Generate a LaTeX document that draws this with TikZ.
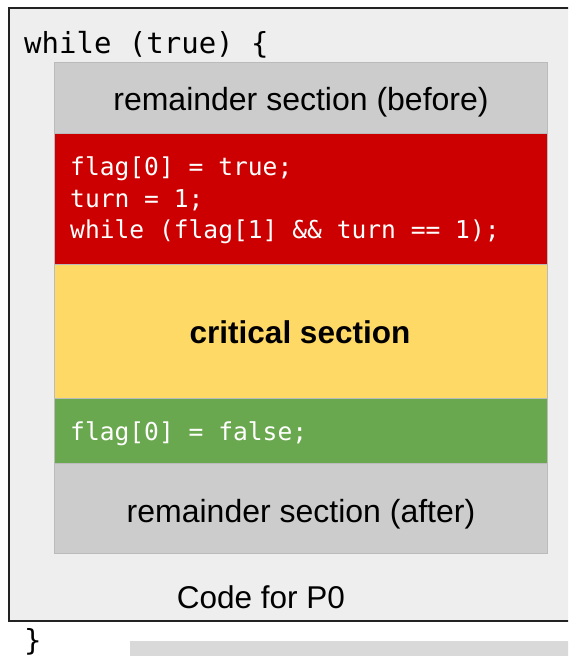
\documentclass[tikz,border=0pt]{standalone}
\usepackage{fontspec}
\setmainfont{Liberation Sans}
\newfontfamily\codefont{DejaVu Sans Mono}
\definecolor{panelbg}{HTML}{EEEEEE}
\definecolor{panelline}{HTML}{222222}
\definecolor{remgray}{HTML}{CCCCCC}
\definecolor{blockline}{HTML}{BBBBBB}
\definecolor{entryred}{HTML}{CC0000}
\definecolor{crityellow}{HTML}{FFD966}
\definecolor{exitgreen}{HTML}{6AA84F}
\definecolor{barfill}{HTML}{D9D9D9}
\tikzset{
  panel/.style={draw=panelline, line width=1.5pt, fill=panelbg, anchor=north west,
    inner sep=0pt, minimum width=572pt, minimum height=613pt},
  block/.style={draw=blockline, line width=1pt, anchor=north west, inner sep=0pt,
    minimum width=493pt},
  sanslabel/.style={font=\fontsize{32}{38}\selectfont, text=black, inner sep=0pt,
    anchor=base},
  codeline/.style={font=\codefont\fontsize{24.6}{32}\selectfont, text=white,
    anchor=base west, inner sep=0pt},
  bigcode/.style={font=\codefont\fontsize{29}{35}\selectfont, text=black,
    anchor=base west, inner sep=0pt}
}
\begin{document}
\begin{tikzpicture}[x=1pt,y=-1pt]
\useasboundingbox (0,0) rectangle (568,656);
\clip (0,0) rectangle (568,656);
\fill[white] (0,0) rectangle (568,656);

% outer panel holding the loop
\node[panel] (panel) at (8,7) {};
\node[bigcode] (loophead) at (24,53) {while (true) \{};

% the stacked sections of the loop body
\node[block, fill=remgray, minimum height=71pt] (before) at (54,62) {};
\node[block, fill=entryred, minimum height=131pt] (entry) at (54,133) {};
\node[block, fill=crityellow, minimum height=134pt] (crit) at (54,264) {};
\node[block, fill=exitgreen, minimum height=65pt] (exit) at (54,398) {};
\node[block, fill=remgray, minimum height=90pt] (after) at (54,463) {};

\node[sanslabel] (beforetext) at (301,110) {remainder section (before)};
\node[codeline] (e1) at (70,175) {flag[0] = true;};
\node[codeline] (e2) at (70,207) {turn = 1;};
\node[codeline] (e3) at (70,238) {while (flag[1] \&\& turn == 1);};
\node[sanslabel, font=\bfseries\fontsize{31.5}{37}\selectfont] (crittext) at (300,343) {critical section};
\node[codeline] (x1) at (70,440) {flag[0] = false;};
\node[sanslabel] (aftertext) at (301,522) {remainder section (after)};

\node[sanslabel, font=\fontsize{31.5}{37}\selectfont] (caption) at (261,608) {Code for P0};

% closing brace and the bar below
\node[bigcode] (loopend) at (24,650) {\}};
\node[fill=barfill, anchor=north west, inner sep=0pt, minimum width=440pt,
  minimum height=16pt] (bar) at (130,641) {};
\end{tikzpicture}
\end{document}
